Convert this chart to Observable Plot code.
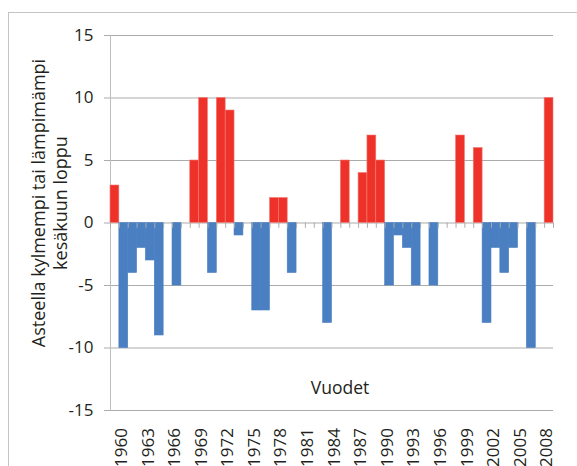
<!DOCTYPE html>
<html>
<head>
<meta charset="utf-8">
<script src="https://cdn.jsdelivr.net/npm/d3@7"></script>
<script src="https://cdn.jsdelivr.net/npm/@observablehq/plot@0.6"></script>
<style>
  html, body { margin: 0; padding: 0; background: #fff; }
  #wrap { position: relative; width: 577px; height: 466px; overflow: hidden; }
  #edge { position: absolute; left: 8px; top: 12px; right: -2px; bottom: -2px;
          border-left: 1px solid #c4c4c4; border-top: 1px solid #c4c4c4; pointer-events: none; }
</style>
</head>
<body>
<div id="wrap"><div id="edge"></div></div>
<script>
// Kesäkuun lopun lämpötilapoikkeama vuosittain (astetta)
const firstYear = 1960;
const deviation = [
   3, -10, -4, -2, -3, -9,  0, -5,  0,  5,
  10,  -4, 10,  9, -1,  0, -7, -7,  2,  2,
  -4,   0,  0,  0, -8,  0,  5,  0,  4,  7,
   5,  -5, -1, -2, -5,  0, -5,  0,  0,  7,
   0,   6, -8, -2, -4, -2,  0,-10,  0, 10
];
const years = deviation.map((_, i) => firstYear + i);
const labelYears = [1960, 1963, 1966, 1969, 1972, 1975, 1978, 1981, 1984,
                    1987, 1990, 1993, 1996, 1999, 2002, 2005, 2008];
const yTicks = [-15, -10, -5, 0, 5, 10, 15];
const yTitle = "Asteella kylmempi tai lämpimämpi\nkesäkuun loppu";
const xTitle = "Vuodet";

const data = years.map((year, i) => ({year, value: deviation[i]}));

const W = 577, H = 466, ML = 110, MR = 24, MT = 35, MB = 56;
const bw = (W - ML - MR) / years.length;
const warm = "#ee3129", cold = "#4a7fc2", grid = "#ababab";

const chart = Plot.plot({
  width: W, height: H,
  marginLeft: ML, marginRight: MR, marginTop: MT, marginBottom: MB,
  style: {fontFamily: "Open Sans", fontSize: "17px", color: "#231f20", background: "transparent", overflow: "visible"},
  x: {type: "band", domain: years, padding: 0},
  y: {domain: [-15, 15]},
  marks: [
    Plot.ruleY(yTicks, {stroke: grid, strokeWidth: 1}),
    Plot.frame({anchor: "left", stroke: "#bdbdbd"}),
    Plot.barY(data.filter(d => d.value !== 0), {
      x: "year", y: "value",
      fill: d => d.value > 0 ? warm : cold,
      stroke: d => d.value > 0 ? "#f07c76" : cold,
      strokeWidth: 0.6
    }),
    Plot.ruleX(years, {x: d => d, y1: 0, y2: -0.42, dx: -bw / 2, stroke: grid}),
    Plot.ruleX([years[years.length - 1]], {x: d => d, y1: 0, y2: -0.42, dx: bw / 2, stroke: grid}),
    Plot.axisY({ticks: yTicks, tickFormat: d => String(d), tickSize: 6, tickPadding: 11, stroke: grid, label: null, fontSize: 17}),
    Plot.axisX({ticks: labelYears, tickFormat: d => String(d), tickSize: 0, tickPadding: 20, rotate: -90, label: null, fontSize: 17, dy: 17}),
    Plot.text([yTitle], {frameAnchor: "left", rotate: -90, dx: -62, dy: -20, fontSize: 18, lineHeight: 1.22, textAnchor: "middle", lineAnchor: "middle"}),
    Plot.text([xTitle], {frameAnchor: "bottom", dx: 8, dy: -17, fontSize: 17.5})
  ]
});
document.getElementById("wrap").prepend(chart);
</script>
</body>
</html>
